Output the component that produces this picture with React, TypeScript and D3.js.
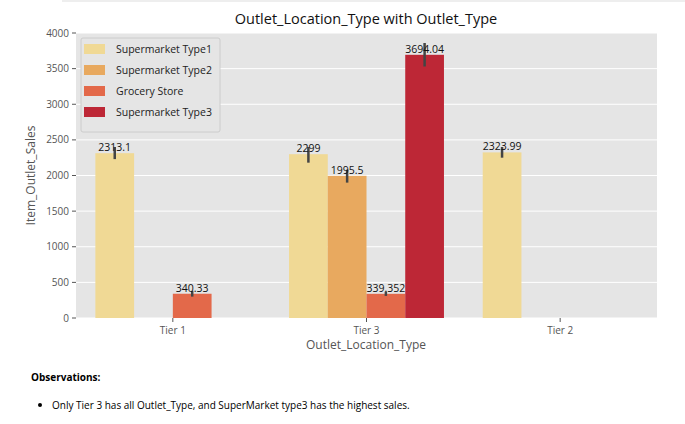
import * as d3 from "d3";

const TIERS = ["Tier 1", "Tier 3", "Tier 2"];
const TYPES = ["Supermarket Type1", "Supermarket Type2", "Grocery Store", "Supermarket Type3"];
const COLORS = ["#f0d995", "#e8a95f", "#e3694a", "#bd2736"];
// [tier, type, mean, ciLow, ciHigh]
const BARS: [string, string, number, number, number][] = [
  ["Tier 1", "Supermarket Type1", 2313.1, 2230, 2400],
  ["Tier 1", "Grocery Store", 340.33, 300, 380],
  ["Tier 3", "Supermarket Type1", 2299, 2180, 2400],
  ["Tier 3", "Supermarket Type2", 1995.5, 1900, 2080],
  ["Tier 3", "Grocery Store", 339.352, 310, 370],
  ["Tier 3", "Supermarket Type3", 3694.04, 3530, 3860],
  ["Tier 2", "Supermarket Type1", 2323.99, 2250, 2400],
];
const LABELS = ["2313.1", "340.33", "2299", "1995.5", "339.352", "3694.04", "2323.99"];
const YTICKS = [0, 500, 1000, 1500, 2000, 2500, 3000, 3500, 4000];

const FONT = "'Open Sans', 'DejaVu Sans', sans-serif";
const L = 76, R = 657, T = 33, B = 318;

export default function App() {
  const x = d3.scaleBand().domain(TIERS).range([L, R]).paddingInner(0.2).paddingOuter(0.1);
  const sub = d3.scaleBand().domain(TYPES).range([0, x.bandwidth()]);
  const y = d3.scaleLinear().domain([0, 4000]).range([B, T]);
  return (
    <svg width={685} height={424} style={{ position: "absolute", left: 0, top: 0 }} fontFamily={FONT}>
      <rect width={685} height={424} fill="white" />
      <line x1={62} x2={685} y1={1} y2={1} stroke="#ddd" />
      <text x={366} y={24} textAnchor="middle" fontSize={14.5} fill="#111">Outlet_Location_Type with Outlet_Type</text>
      <rect x={L} y={T} width={R - L} height={B - T} fill="#e5e5e5" />
      {YTICKS.map((t) => (
        <g key={t}>
          <line x1={L} x2={R} y1={y(t)} y2={y(t)} stroke="white" strokeWidth={1} />
          <line x1={L - 4} x2={L} y1={y(t)} y2={y(t)} stroke="#555" />
          <text x={L - 7} y={y(t)} dy="0.35em" textAnchor="end" fontSize={10} fill="#555">{t}</text>
        </g>
      ))}
      {BARS.map(([tier, type, v, lo, hi], i) => {
        const bx = x(tier)! + sub(type)!;
        const w = sub.bandwidth();
        const cx = bx + w / 2;
        return (
          <g key={i}>
            <rect x={bx} y={y(v)} width={w} height={B - y(v)} fill={COLORS[TYPES.indexOf(type)]} />
            <line x1={cx} x2={cx} y1={y(lo)} y2={y(hi)} stroke="#444" strokeWidth={2.5} />
            <text x={cx} y={y(v) - 2} textAnchor="middle" fontSize={10.5} fill="#111">{LABELS[i]}</text>
          </g>
        );
      })}
      {TIERS.map((t) => {
        const cx = x(t)! + x.bandwidth() / 2;
        return (
          <g key={t}>
            <line x1={cx} x2={cx} y1={B} y2={B + 4} stroke="#555" />
            <text x={cx} y={B + 16} textAnchor="middle" fontSize={10} fill="#555">{t}</text>
          </g>
        );
      })}
      <text x={366} y={349} textAnchor="middle" fontSize={12} fill="#555">Outlet_Location_Type</text>
      <text transform={`translate(35,${(T + B) / 2}) rotate(-90)`} textAnchor="middle" fontSize={12} fill="#555">Item_Outlet_Sales</text>
      <g transform="translate(81,38)">
        <rect width={139} height={94} fill="#e5e5e5" stroke="#ccc" rx={2} />
        {TYPES.map((t, i) => (
          <g key={t} transform={`translate(3,${6 + i * 21})`}>
            <rect width={21} height={10} fill={COLORS[i]} />
            <text x={32} y={5} dy="0.35em" fontSize={10.5} fill="#222">{t}</text>
          </g>
        ))}
      </g>
      <text x={31} y={381} fontSize={10} fontWeight="bold" fill="#000">Observations:</text>
      <circle cx={40} cy={405} r={2} fill="#000" />
      <text x={52} y={409} fontSize={10} fill="#000">Only Tier 3 has all Outlet_Type, and SuperMarket type3 has the highest sales.</text>
    </svg>
  );
}
